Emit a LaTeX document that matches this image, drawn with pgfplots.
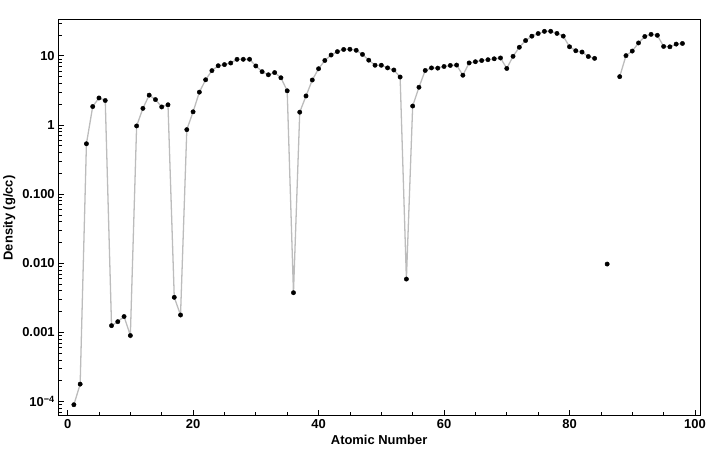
\documentclass[border=0pt]{standalone}
\usepackage{pgfplots}
\pgfplotsset{compat=1.18}
\usepackage{fontspec}
\setmainfont{Liberation Sans}
\definecolor{linegray}{RGB}{188,188,188}
\pgfplotstableread{
z rho
1 0.0000899
2 0.0001785
3 0.535
4 1.848
5 2.46
6 2.26
7 0.001251
8 0.001429
9 0.001696
10 0.0009
11 0.968
12 1.738
13 2.7
14 2.33
15 1.823
16 1.96
17 0.003214
18 0.001784
19 0.856
20 1.55
21 2.985
22 4.507
23 6.11
24 7.19
25 7.47
26 7.874
27 8.9
28 8.908
29 8.92
30 7.14
31 5.904
32 5.323
33 5.727
34 4.819
35 3.12
36 0.00375
37 1.532
38 2.63
39 4.472
40 6.511
41 8.57
42 10.28
43 11.5
44 12.37
45 12.45
46 12.023
47 10.49
48 8.65
49 7.31
50 7.31
51 6.697
52 6.24
53 4.94
54 0.0059
55 1.879
56 3.51
57 6.146
58 6.689
59 6.64
60 7.01
61 7.264
62 7.353
63 5.244
64 7.901
65 8.219
66 8.551
67 8.795
68 9.066
69 9.321
70 6.57
71 9.841
72 13.31
73 16.65
74 19.25
75 21.02
76 22.61
77 22.65
78 21.09
79 19.3
80 13.534
81 11.85
82 11.34
83 9.78
84 9.196
85 nan
86 0.00973
87 nan
88 5.0
89 10.07
90 11.724
91 15.37
92 19.05
93 20.45
94 19.816
95 13.67
96 13.51
97 14.78
98 15.1
}\densitytable
\begin{document}
\begin{tikzpicture}
\begin{axis}[
  scale only axis,
  width=642bp, height=396bp,
  ymode=log,
  xmin=-1.5, xmax=100.8,
  ymin=6.2e-5, ymax=33,
  axis line style={line width=1pt},
  tick align=inside,
  xtick pos=bottom, ytick pos=left,
  xtick={0,20,40,60,80,100},
  minor xtick={5,10,15,25,30,35,45,50,55,65,70,75,85,90,95},
  ytick={1e-4,0.001,0.01,0.1,1,10},
  yticklabels={10\textsuperscript{−4},0.001,0.010,0.100,1,10},
  minor ytick={7e-5,8e-5,9e-5,
    2e-4,3e-4,4e-4,5e-4,6e-4,7e-4,8e-4,9e-4,
    2e-3,3e-3,4e-3,5e-3,6e-3,7e-3,8e-3,9e-3,
    2e-2,3e-2,4e-2,5e-2,6e-2,7e-2,8e-2,9e-2,
    0.2,0.3,0.4,0.5,0.6,0.7,0.8,0.9,
    2,3,4,5,6,7,8,9,20,30},
  major tick length=6bp, minor tick length=3.5bp,
  every tick/.style={black, line width=0.7pt},
  /pgf/number format/assume math mode=true,
  tick label style={font=\fontsize{13}{15}\selectfont\bfseries},
  label style={font=\fontsize{13}{15}\selectfont\bfseries},
  xlabel={Atomic Number},
  ylabel={Density (g/cc)},
  unbounded coords=jump,
  clip=false,
]
\addplot[color=linegray, line width=1.3pt, mark=*, mark size=2.2pt,
  mark options={draw=black, fill=black, line width=0.4pt}]
  table[x=z, y=rho] {\densitytable};
\end{axis}
\path (current axis.south west) ++(-58bp,-39bp) coordinate (bbA);
\path (current axis.north east) ++(20bp,20bp) coordinate (bbB);
\path (bbA) rectangle (bbB);
\end{tikzpicture}
\end{document}
